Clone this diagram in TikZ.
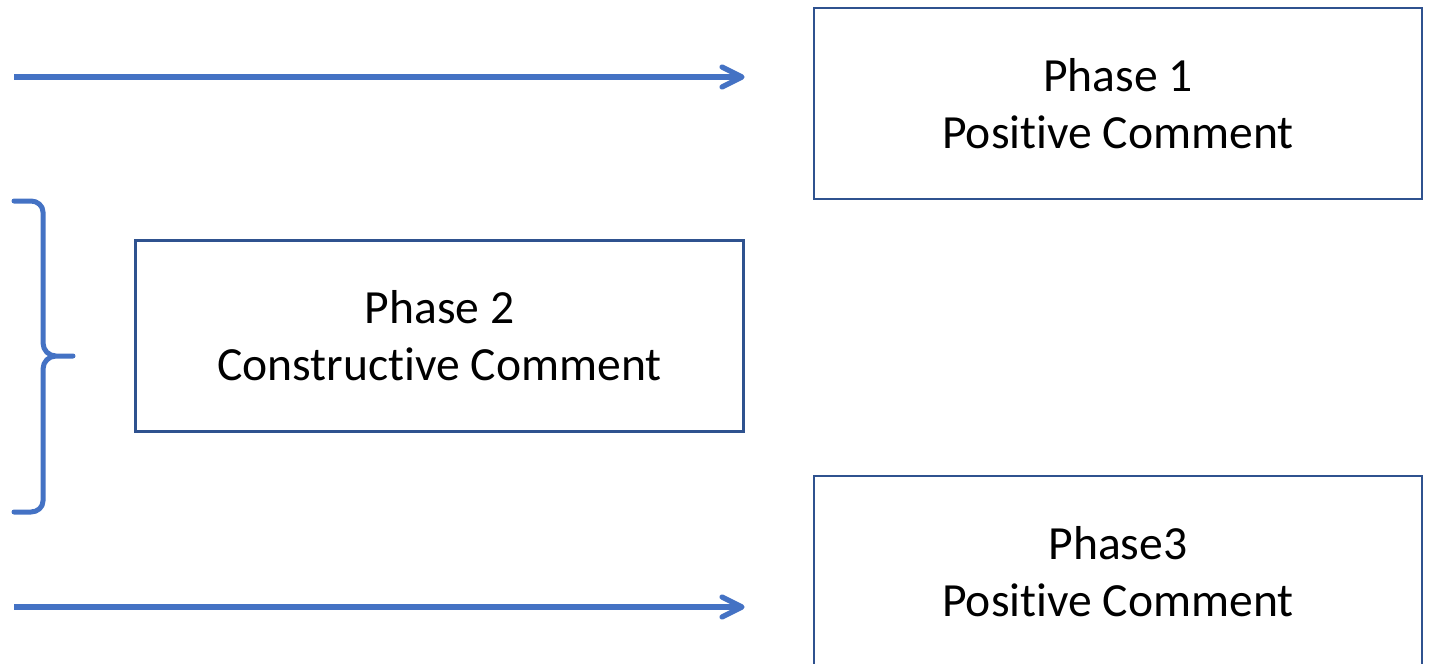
\documentclass[tikz,border=0pt]{standalone}
\usepackage{fontspec}
\setmainfont{Carlito}[Ligatures={NoCommon,NoContextual,NoRequired}]
\usetikzlibrary{arrows.meta,positioning}
\definecolor{bordoblu}{RGB}{47,82,143}
\definecolor{lineablu}{RGB}{68,114,196}

\begin{document}
\begin{tikzpicture}[x=0.5pt,y=-0.5pt,
  fase/.style={draw=bordoblu,line width=1.1pt,minimum width=304pt,minimum height=95.5pt,
    align=center,inner sep=0pt,font=\fontsize{23.8}{28.5}\selectfont},
  freccia/.style={lineablu,line width=2.6pt,-{Straight Barb[length=10pt 0,width=10pt 0,round]}},
  graffa/.style={lineablu,line width=2.5pt,line cap=round,line join=round}]
\clip (0,0) rectangle (1430,664);
% riquadri delle fasi
\node[fase] (fase1) at (1118,103.5) {Phase 1\\Positive Comment};
\node[fase] (fase2) at (439.5,336) {Phase 2\\Constructive Comment};
\node[fase] (fase3) at (1118,571.5) {Phase3\\Positive Comment};
% frecce
\coordinate (inizio1) at (14,77);
\coordinate (fine1) at (fase2.east |- inizio1);
\coordinate (inizio2) at (14,607);
\coordinate (fine2) at (fase2.east |- inizio2);
\draw[freccia] (inizio1) -- (fine1);
\draw[freccia] (inizio2) -- (fine2);
% graffa
\draw[graffa] (14,201) -- (31,201) to[out=0,in=90] (43,212) -- (43,343)
  to[out=-90,in=180] (56,356) -- (73,356)
  (56,356) to[out=180,in=90] (43,369) -- (43,501) to[out=-90,in=0] (31,512) -- (14,512);
\end{tikzpicture}
\end{document}
